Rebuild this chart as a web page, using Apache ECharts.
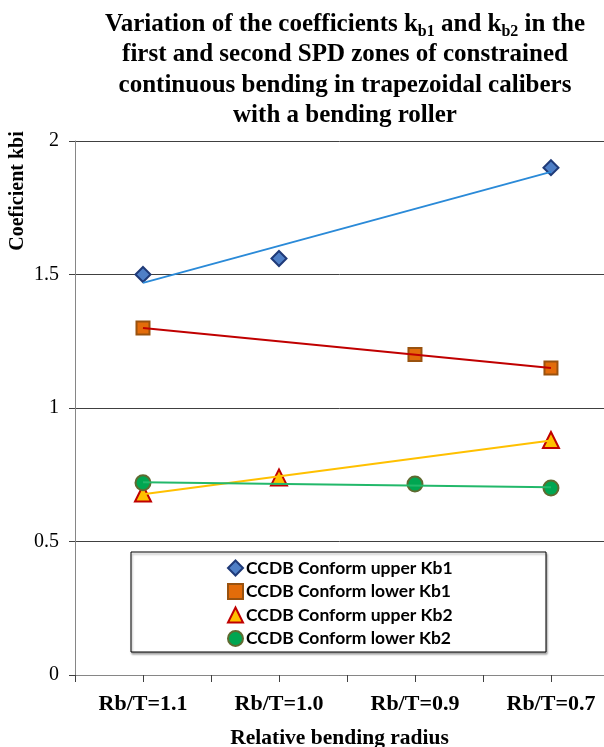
<!DOCTYPE html>
<html>
<head>
<meta charset="utf-8">
<script src="https://cdn.jsdelivr.net/npm/echarts@6/dist/echarts.min.js"></script>
<style>
  html, body { margin: 0; padding: 0; background: #fff; }
  #chart { width: 604px; height: 747px; }
</style>
</head>
<body>
<div id="chart"></div>
<script>
// categories along the x axis (placed at x = 1..4)
const categories = ['Rb/T=1.1', 'Rb/T=1.0', 'Rb/T=0.9', 'Rb/T=0.7']

// measured points: [category position, value]
const upperKb1 = [[1, 1.50], [2, 1.56], [4, 1.90]]
const lowerKb1 = [[1, 1.30], [3, 1.20], [4, 1.15]]
const upperKb2 = [[1, 0.68], [2, 0.74], [4, 0.88]]
const lowerKb2 = [[1, 0.72], [3, 0.715], [4, 0.70]]

const seriesNames = [
  'CCDB Conform upper Kb1',
  'CCDB Conform lower Kb1',
  'CCDB Conform upper Kb2',
  'CCDB Conform lower Kb2'
]
const yTicks = [0, 0.5, 1, 1.5, 2]

const serif = '"Liberation Serif", "DejaVu Serif", serif'

// linear trendline (least squares), like Excel's
function trend (pts) {
  const n = pts.length
  let sx = 0, sy = 0, sxx = 0, sxy = 0
  pts.forEach(p => { sx += p[0]; sy += p[1]; sxx += p[0] * p[0]; sxy += p[0] * p[1] })
  const b = (n * sxy - sx * sy) / (n * sxx - sx * sx)
  const a = (sy - b * sx) / n
  const x0 = pts[0][0], x1 = pts[n - 1][0]
  return [[x0, a + b * x0], [x1, a + b * x1]]
}

const styles = [
  { data: upperKb1, symbol: 'diamond', size: 15, fill: '#4f7fc6', border: '#1f3a78', line: '#2a8ad8' },
  { data: lowerKb1, symbol: 'rect', size: 13, fill: '#e36c0a', border: '#99520f', line: '#c00000' },
  { data: upperKb2, symbol: 'triangle', size: 16, fill: '#ffc000', border: '#c00000', line: '#ffc000' },
  { data: lowerKb2, symbol: 'circle', size: 15, fill: '#00a651', border: '#5f6a30', line: '#22b86a' }
]

const series = []
styles.forEach((s, i) => {
  series.push({
    name: seriesNames[i],
    type: 'scatter',
    data: s.data,
    symbol: s.symbol,
    symbolSize: s.size,
    itemStyle: { color: s.fill, borderColor: s.border, borderWidth: 2, opacity: 1 },
    z: 2
  })
  series.push({
    name: seriesNames[i] + ' trend',
    type: 'line',
    data: trend(s.data),
    showSymbol: false,
    symbol: 'none',
    lineStyle: { color: s.line, width: 2 },
    silent: true,
    z: 3
  })
})

const chart = echarts.init(document.getElementById('chart'))
chart.setOption({
  animation: false,
  backgroundColor: '#fff',
  title: {
    text: 'Variation of the coefficients k{sub|b1} and k{sub|b2} in the\nfirst and second SPD zones of constrained\ncontinuous bending in trapezoidal calibers\nwith a bending roller',
    left: 340,
    top: 4,
    textAlign: 'center',
    textStyle: {
      fontFamily: serif,
      fontWeight: 'bold',
      fontSize: 25,
      lineHeight: 30.5,
      color: '#000',
      rich: {
        sub: {
          fontFamily: serif,
          fontWeight: 'bold',
          fontSize: 16,
          color: '#000',
          verticalAlign: 'bottom',
          lineHeight: 24
        }
      }
    }
  },
  grid: { left: 75, right: 0, top: 141, bottom: 72, containLabel: false, outerBoundsMode: 'none' },
  xAxis: {
    type: 'value',
    min: 0.5,
    max: 4.39,
    interval: 0.5,
    name: 'Relative bending radius',
    nameLocation: 'middle',
    nameGap: 52,
    nameTextStyle: { fontFamily: serif, fontWeight: 'bold', fontSize: 21.5, color: '#000' },
    axisLine: { lineStyle: { color: '#868686', width: 1 } },
    axisTick: { show: true, inside: false, length: 7, lineStyle: { color: '#404040' } },
    splitLine: { show: false },
    axisLabel: {
      margin: 18,
      showMaxLabel: false,
      fontFamily: serif,
      fontWeight: 'bold',
      fontSize: 22,
      color: '#000',
      formatter: v => (Number.isInteger(v) && categories[v - 1]) ? categories[v - 1] : ''
    }
  },
  yAxis: {
    type: 'value',
    min: 0,
    max: 2,
    interval: 0.5,
    axisLine: { show: true, lineStyle: { color: '#868686', width: 1 } },
    axisTick: { show: true, inside: false, length: 6, lineStyle: { color: '#404040' } },
    splitLine: { show: true, lineStyle: { color: '#404040', width: 1 } },
    axisLabel: {
      margin: 16,
      fontFamily: serif,
      fontSize: 20,
      color: '#000',
      formatter: v => yTicks.indexOf(v) >= 0 ? String(v) : ''
    }
  },
  legend: {
    data: seriesNames,
    orient: 'vertical',
    left: 227,
    top: 559,
    itemWidth: 15,
    itemHeight: 15,
    itemGap: 5.5,
    padding: 0,
    textStyle: { fontFamily: 'Lato, "Open Sans", sans-serif', fontWeight: 'bold', fontSize: 17.5, color: '#000', padding: [0, 0, 0, -2] },
    z: 6
  },
  graphic: [
    {
      type: 'rect',
      z: 5,
      shape: { x: 131, y: 552, width: 415, height: 100 },
      style: { fill: '#fff', stroke: '#000', lineWidth: 1, shadowBlur: 2, shadowOffsetX: 1, shadowOffsetY: 2, shadowColor: 'rgba(0,0,0,0.35)' }
    },
    {
      type: 'text',
      x: 18,
      y: 191,
      rotation: Math.PI / 2,
      style: {
        text: 'Coeficient kbi',
        font: 'bold 20px "Liberation Serif", serif',
        fill: '#000',
        textAlign: 'center',
        textVerticalAlign: 'middle'
      }
    }
  ],
  series
})
</script>
</body>
</html>
